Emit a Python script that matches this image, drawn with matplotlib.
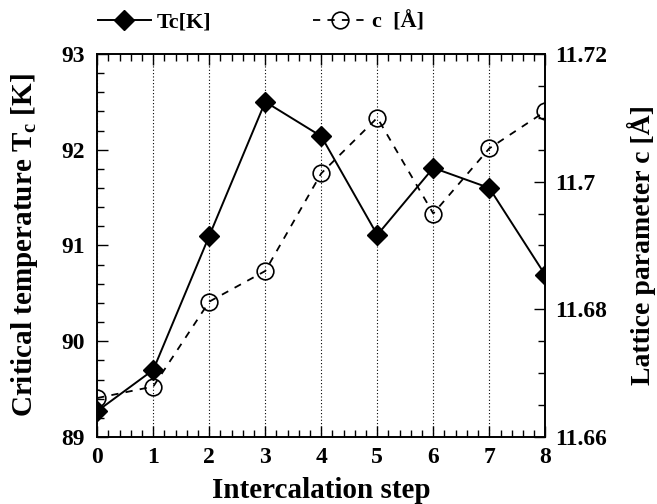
import matplotlib
matplotlib.use('Agg')
import matplotlib.pyplot as plt
from matplotlib.ticker import MultipleLocator

plt.rcParams['font.family'] = 'Liberation Serif'
plt.rcParams['font.weight'] = 'bold'
plt.rcParams['axes.labelweight'] = 'bold'
plt.rcParams['mathtext.default'] = 'regular'

steps = [0, 1, 2, 3, 4, 5, 6, 7, 8]
tc = [89.27, 89.70, 91.10, 92.50, 92.14, 91.11, 91.81, 91.60, 90.69]
c_lat = [11.6661, 11.6679, 11.6812, 11.6860, 11.7013, 11.7100, 11.6950, 11.7052, 11.7110]

fig = plt.figure(figsize=(6.57, 5.04), dpi=100)
ax = fig.add_axes([0.148, 0.133, 0.682, 0.760])
ax2 = ax.twinx()

for s in steps:
    ax.axvline(s, color='black', ls=(0, (1, 2)), lw=0.8, zorder=0)

l1, = ax.plot(steps, tc, color='black', lw=1.4, marker='D', ms=10,
              mfc='black', mec='black', label='Tc[K]', zorder=3)
l2, = ax2.plot(steps, c_lat, color='black', lw=1.3, ls=(0, (4, 4)), marker='o', ms=12,
               mfc='none', mec='black', mew=1.2, label='c  [Å]', zorder=3)

ax.set_xlim(0, 8)
ax.set_ylim(89, 93)
ax2.set_ylim(11.66, 11.72)

ax.xaxis.set_major_locator(MultipleLocator(1))
ax.xaxis.set_minor_locator(MultipleLocator(0.2))
ax.yaxis.set_major_locator(MultipleLocator(1))
ax.yaxis.set_minor_locator(MultipleLocator(0.2))
ax2.yaxis.set_minor_locator(MultipleLocator(0.005))
ax2.set_yticks([11.66, 11.68, 11.70, 11.72])
ax2.set_yticklabels(['11.66', '11.68', '11.7', '11.72'])

ax.tick_params(axis='x', which='both', direction='in', top=True, labelsize=17, pad=7)
ax.tick_params(axis='y', which='both', direction='in', right=False, labelsize=17, pad=9)
ax.tick_params(which='major', length=8, width=1)
ax.tick_params(which='minor', length=5, width=1)
ax2.tick_params(axis='y', which='both', direction='in', labelsize=17, pad=7)
ax2.tick_params(which='major', length=8, width=1)
ax2.tick_params(which='minor', length=5, width=1)

for a in (ax, ax2):
    for sp in a.spines.values():
        sp.set_linewidth(1.2)

ax.set_xlabel('Intercalation step', fontsize=21)
ax.set_ylabel('Critical temperature T$_c$ [K]', fontsize=21)
ax2.set_ylabel('Lattice parameter c [Å]', fontsize=20, rotation=90)
ax.xaxis.set_label_coords(0.5, -0.105)
ax.yaxis.set_label_coords(-0.128, 0.5)
ax2.yaxis.set_label_coords(1.182, 0.5)

fig.legend(handles=[l1, l2], loc='upper left', bbox_to_anchor=(0.118, 1.015), ncol=2,
           frameon=False, fontsize=16, columnspacing=4.6, handlelength=2.4,
           handletextpad=0.25)

fig.savefig('out.png', dpi=100)
